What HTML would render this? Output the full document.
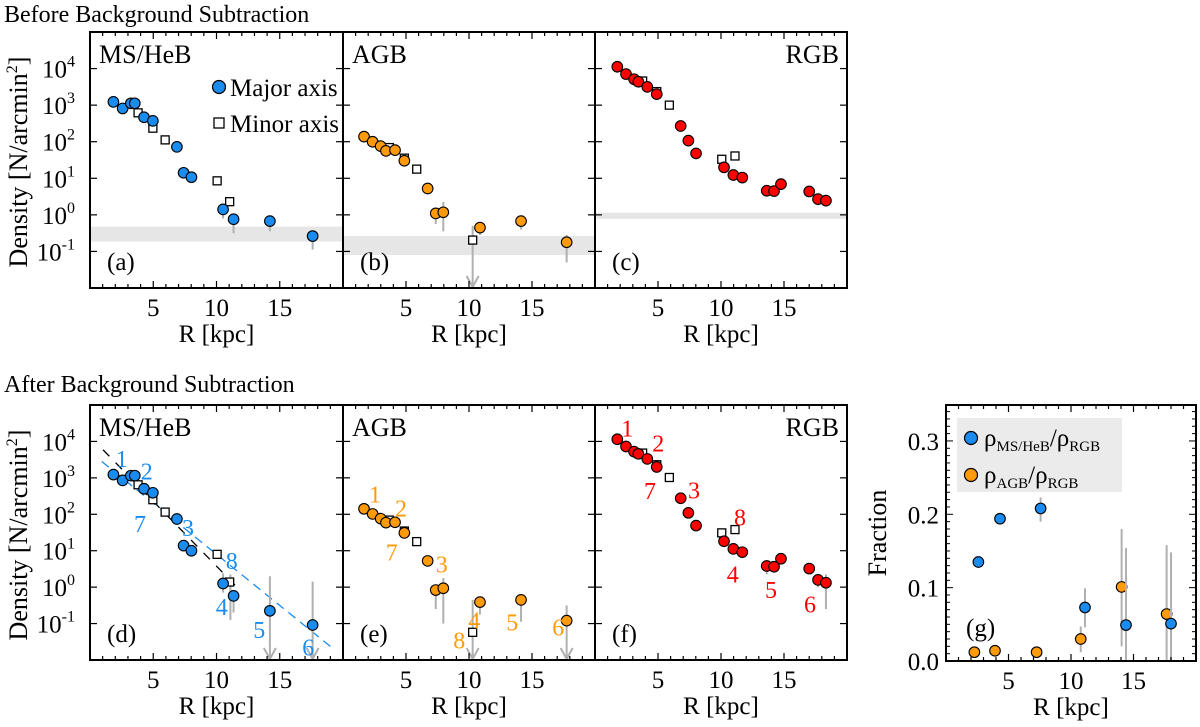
<!DOCTYPE html>
<html><head><meta charset="utf-8"><style>
body{margin:0;background:#fff}
svg{display:block;font-family:"Liberation Serif",serif}
</style></head><body>
<svg id="fig" width="1200" height="727" viewBox="0 0 1200 727" xmlns="http://www.w3.org/2000/svg">
<text x="4" y="22" font-size="24">Before Background Subtraction</text>
<text x="4" y="392" font-size="24">After Background Subtraction</text>
<text transform="translate(27,162) rotate(-90)" font-size="26" text-anchor="middle">Density [N/arcmin<tspan font-size="16" dy="-10">2</tspan><tspan dy="10">]</tspan></text>
<text transform="translate(27,535) rotate(-90)" font-size="26" text-anchor="middle">Density [N/arcmin<tspan font-size="16" dy="-10">2</tspan><tspan dy="10">]</tspan></text>
<text transform="translate(886,533) rotate(-90)" font-size="26" text-anchor="middle">Fraction</text>
</svg>
<script>
// ---------- data ----------
const msR=[1.85,2.58,3.23,3.54,4.27,4.97,6.87,7.4,8.02,10.52,11.35,14.22,17.6];
const msBefore=[3.09,2.91,3.05,3.05,2.67,2.57,1.86,1.15,1.03,0.15,-0.12,-0.17,-0.58];
const msAfter=[3.09,2.93,3.06,3.06,2.70,2.59,1.87,1.14,1.0,0.10,-0.24,-0.65,-1.04];
const msMinR=[3.8,4.97,5.94,10.05,11.04];
const msMinBefore=[2.79,2.37,2.05,0.93,0.36];
const msMinAfter=[2.81,2.40,2.06,0.90,0.14];
const agbR=[1.67,2.35,2.99,3.41,4.13,4.87,6.72,7.36,7.96,10.87,14.13,17.75];
const agbBefore=[2.14,2.0,1.88,1.75,1.77,1.48,0.72,0.04,0.07,-0.35,-0.17,-0.75];
const agbAfter=[2.15,2.01,1.88,1.77,1.78,1.49,0.72,-0.08,-0.03,-0.41,-0.35,-0.92];
const agbMinR=[3.68,4.87,5.85,10.29];
const agbMinBefore=[1.84,1.55,1.25,-0.69];
const agbMinAfter=[1.84,1.54,1.25,-1.24];
const rgbR=[1.77,2.46,3.1,3.44,4.15,4.9,6.8,7.41,8.02,10.24,10.98,11.69,13.63,14.21,14.76,17.0,17.7,18.33];
const rgbBefore=[4.05,3.85,3.71,3.64,3.5,3.3,2.43,2.03,1.68,1.3,1.09,1.02,0.66,0.65,0.84,0.64,0.43,0.39];
const rgbAfter=[4.06,3.86,3.72,3.66,3.52,3.3,2.44,2.04,1.69,1.26,1.05,0.96,0.58,0.56,0.78,0.51,0.2,0.12];
const rgbMinR=[3.78,4.9,5.9,10.06,11.11];
const rgbMinBefore=[3.66,3.37,3.0,1.52,1.61];
const rgbMinAfter=[3.68,3.36,3.01,1.49,1.58];
const bgBands=[[-0.73,-0.32],[-1.1,-0.58],[-0.11,0.06]];
// error bars: [R, logLo, logHi]
const errA=[[10.52,-0.1,0.15],[11.35,-0.5,-0.12],[14.22,-0.45,-0.17],[17.6,-0.95,-0.45]];
const errB=[[7.36,-0.25,0.04],[7.96,-0.45,0.35],[10.87,-0.55,-0.35],[14.13,-0.4,-0.17],[17.75,-1.3,-0.55]];
const errC=[];
const errD=[[10.52,-0.15,0.38],[11.1,-0.9,0.35],[11.35,-0.7,-0.1]];
const errE=[[7.36,-0.6,0.05],[7.96,-1.0,0.25],[10.87,-0.75,-0.3],[14.13,-0.95,-0.2]];
const errF=[[13.63,0.35,0.58],[17.0,0.35,0.51],[17.7,0.0,0.2],[18.33,-0.6,0.35]];
// upper-limit arrows: [R, logStart]
const arrB=[[10.29,-0.3]];
const arrD=[[14.22,0.3],[17.6,0.15]];
const arrE=[[10.29,-0.35],[17.75,-0.5]];
const yTickExp=[4,3,2,1,0,-1];
const xTickLabels=[5,10,15];
// ratio panel
const fracMsR=[2.59,4.32,7.57,11.12,14.4,18.0];
const fracMs=[0.135,0.194,0.208,0.073,0.049,0.051];
const fracMsLo=[null,null,0.19,0.046,0.0,0.0];
const fracMsHi=[null,null,0.223,0.099,0.154,0.148];
const fracAgbR=[2.27,3.92,7.25,10.78,14.05,17.65];
const fracAgb=[0.012,0.014,0.012,0.03,0.101,0.064];
const fracAgbLo=[null,null,null,0.012,0.02,0.0];
const fracAgbHi=[null,null,null,0.047,0.18,0.158];
const fracTicks=[0.0,0.1,0.2,0.3];

const NS="http://www.w3.org/2000/svg";
const svg=document.getElementById('fig');
function mk(tag,attrs,parent){const e=document.createElementNS(NS,tag);for(const k in attrs)e.setAttribute(k,attrs[k]);(parent||svg).appendChild(e);return e;}

const BLUE="#1a8cf0",ORANGE="#ff9a0a",RED="#ff0000",GRAY="#b0b0b0";
const cols=[[90,343],[343,595],[595,847]];
const rows=[[32,288],[405,660]];
const FS=25;

function panel(ci,ri,o){
  const [x0,x1]=cols[ci],[y0,y1]=rows[ri];
  const sx=r=>x0+(r/20)*(x1-x0);
  const sy=l=>y0+(5-l)/7*(y1-y0);
  const g=mk('g',{});
  
  
  if(o.band){const b=mk('rect',{x:x0+1,y:sy(o.band[1]),width:x1-x0-2,height:sy(o.band[0])-sy(o.band[1]),fill:'#e6e6e6'},g);
    }
  (o.fits||[]).forEach(f=>{const l=mk('line',{x1:sx(f[0]),y1:sy(f[1]),x2:sx(f[2]),y2:sy(f[3]),stroke:f[4],'stroke-width':1.3,'stroke-dasharray':f[5]},g);
    });
  o.err.forEach(e=>{const l=mk('line',{x1:sx(e[0]),x2:sx(e[0]),y1:sy(e[1]),y2:sy(e[2]),stroke:GRAY,'stroke-width':2},g);
    });
  (o.arr||[]).forEach(a=>{const x=sx(a[0]),ya=sy(a[1]);
    const l=mk('path',{d:`M${x},${ya}V${y1-1}M${x-6},${y1-12}L${x},${y1-1}L${x+6},${y1-12}`,stroke:GRAY,'stroke-width':2,fill:'none'},g);
    });
  o.minR.forEach((r,i)=>{const s=mk('rect',{x:sx(r)-4,y:sy(o.minV[i])-4,width:8,height:8,fill:'#fff',stroke:'#000','stroke-width':1.3},g);
    });
  o.R.forEach((r,i)=>{const c=mk('circle',{cx:sx(r),cy:sy(o.V[i]),r:5.3,fill:o.color,stroke:'#000','stroke-width':1.1},g);
    });
  const fr=mk('rect',{x:x0,y:y0,width:x1-x0,height:y1-y0,fill:'none',stroke:'#000','stroke-width':2},g);
  
  for(let r=1;r<20;r++){const L=(r%5===0)?7:4;
    mk('line',{x1:sx(r),x2:sx(r),y1:y1,y2:y1-L,stroke:'#000','stroke-width':1.2},g);
    mk('line',{x1:sx(r),x2:sx(r),y1:y0,y2:y0+L,stroke:'#000','stroke-width':1.2},g);}
  xTickLabels.forEach(v=>{const t=mk('text',{x:sx(v),y:y1+28,'font-size':FS,'text-anchor':'middle'},g);t.textContent=v;
    });
  const xt=mk('text',{x:(x0+x1)/2,y:y1+54,'font-size':FS,'text-anchor':'middle'},g);xt.textContent='R [kpc]';
  
  yTickExp.forEach(e=>{const y=sy(e);
    mk('line',{x1:x0,x2:x0+7,y1:y,y2:y,stroke:'#000','stroke-width':1.2},g);
    mk('line',{x1:x1,x2:x1-7,y1:y,y2:y,stroke:'#000','stroke-width':1.2},g);
    if(ci===0){const t=mk('text',{x:x0-15,y:y+9,'font-size':FS,'text-anchor':'end'},g);t.textContent='10';
      const s=mk('tspan',{'font-size':16,dy:-11},t);s.textContent=e;
      }});
  const nm=mk('text',{x:o.nameRight?x1-8:x0+9,y:y0+31,'font-size':26,'text-anchor':o.nameRight?'end':'start'},g);nm.textContent=o.title;
  
  const pl=mk('text',{x:x0+17,y:y1-18,'font-size':25},g);pl.textContent=o.tag;
  
  (o.nums||[]).forEach(n=>{const t=mk('text',{x:n[0],y:n[1]+9,'font-size':24,fill:o.color,'text-anchor':'middle'},g);t.textContent=n[2];
    });
  return g;
}

panel(0,0,{name:'panel-a-ms-heb-before',title:'MS/HeB',tag:'(a)',color:BLUE,R:msR,V:msBefore,minR:msMinR,minV:msMinBefore,band:bgBands[0],err:errA});
panel(1,0,{name:'panel-b-agb-before',title:'AGB',tag:'(b)',color:ORANGE,R:agbR,V:agbBefore,minR:agbMinR,minV:agbMinBefore,band:bgBands[1],err:errB,arr:arrB});
panel(2,0,{name:'panel-c-rgb-before',title:'RGB',tag:'(c)',nameRight:true,color:RED,R:rgbR,V:rgbBefore,minR:rgbMinR,minV:rgbMinBefore,band:bgBands[2],err:errC});
panel(0,1,{name:'panel-d-ms-heb-after',title:'MS/HeB',tag:'(d)',color:BLUE,R:msR,V:msAfter,minR:msMinR,minV:msMinAfter,err:errD,arr:arrD,
  fits:[[0.93,3.45,19.05,-1.64,BLUE,'9,6'],[1.03,3.77,11.9,-0.1,'#000','9,9']],
  nums:[[121.7,458,'1'],[146.7,470.7,'2'],[140,523,'7'],[188,527,'3'],[231.7,560,'8'],[221.7,606,'4'],[259.3,629,'5'],[308.3,646.7,'6']]});
panel(1,1,{name:'panel-e-agb-after',title:'AGB',tag:'(e)',color:ORANGE,R:agbR,V:agbAfter,minR:agbMinR,minV:agbMinAfter,err:errE,arr:arrE,
  nums:[[375,493.3,'1'],[401,507.3,'2'],[391.7,551.7,'7'],[441.7,563.3,'3'],[474.3,619.3,'4'],[459.3,639.3,'8'],[512.3,621.7,'5'],[558.3,626.7,'6']]});
panel(2,1,{name:'panel-f-rgb-after',title:'RGB',tag:'(f)',nameRight:true,color:RED,R:rgbR,V:rgbAfter,minR:rgbMinR,minV:rgbMinAfter,err:errF,
  nums:[[627.3,427.3,'1'],[658.3,442.7,'2'],[650,490,'7'],[694,489.3,'3'],[740,516.7,'8'],[732.7,573.3,'4'],[771,589,'5'],[810,603.3,'6']]});

(function(){
  const lc=mk('circle',{cx:219,cy:87,r:6.5,fill:BLUE,stroke:'#000','stroke-width':1.2});
  
  const lt=mk('text',{x:230,y:96,'font-size':25});lt.textContent='Major axis';
  
  const ls=mk('rect',{x:214,y:118,width:10,height:10,fill:'#fff',stroke:'#000','stroke-width':1.3});
  
  const lt2=mk('text',{x:230,y:132,'font-size':25});lt2.textContent='Minor axis';
  
})();

(function(){
  const x0=946,x1=1196,y0=405,y1=661;
  const sx=r=>x0+r*12.5, sy=f=>y1-f/0.349*(y1-y0);
  const g=mk('g',{});
  
  
  const lb=mk('rect',{x:957,y:418,width:165,height:74,fill:'#ebebeb'},g);
  
  [[438,BLUE,'MS/HeB'],[475,ORANGE,'AGB']].forEach(L=>{
    const c=mk('circle',{cx:971,cy:L[0],r:6.5,fill:L[1],stroke:'#000','stroke-width':1.2},g);
    
    const t=mk('text',{x:984,y:L[0]+8,'font-size':25},g);
    
    t.appendChild(document.createTextNode('ρ'));
    const a=mk('tspan',{'font-size':15,dy:5},t);a.textContent=L[2];
    const b=mk('tspan',{dy:-5},t);b.textContent='/ρ';
    const c2=mk('tspan',{'font-size':15,dy:5},t);c2.textContent='RGB';
  });
  function series(R,V,Lo,Hi,col,nm){
    R.forEach((r,i)=>{if(Lo[i]!==null){const l=mk('line',{x1:sx(r),x2:sx(r),y1:sy(Lo[i]),y2:sy(Hi[i]),stroke:GRAY,'stroke-width':2},g);
      }});
    R.forEach((r,i)=>{const c=mk('circle',{cx:sx(r),cy:sy(V[i]),r:5.3,fill:col,stroke:'#000','stroke-width':1.1},g);
      });
  }
  series(fracAgbR,fracAgb,fracAgbLo,fracAgbHi,ORANGE,'agb-fraction-point');
  series(fracMsR,fracMs,fracMsLo,fracMsHi,BLUE,'ms-heb-fraction-point');
  const fr=mk('rect',{x:x0,y:y0,width:x1-x0,height:y1-y0,fill:'none',stroke:'#000','stroke-width':2},g);
  
  for(let r=1;r<20;r++){const L=(r%5===0)?7:4;
    mk('line',{x1:sx(r),x2:sx(r),y1:y1,y2:y1-L,stroke:'#000','stroke-width':1.2},g);
    mk('line',{x1:sx(r),x2:sx(r),y1:y0,y2:y0+L,stroke:'#000','stroke-width':1.2},g);}
  for(let k=1;k<35;k++){const f=k*0.01,L=(k%10===0)?7:4;
    mk('line',{x1:x0,x2:x0+L,y1:sy(f),y2:sy(f),stroke:'#000','stroke-width':1},g);
    mk('line',{x1:x1,x2:x1-L,y1:sy(f),y2:sy(f),stroke:'#000','stroke-width':1},g);}
  fracTicks.forEach(f=>{const t=mk('text',{x:x0-7,y:sy(f)+9,'font-size':FS,'text-anchor':'end'},g);t.textContent=f.toFixed(1);
    });
  xTickLabels.forEach(v=>{const t=mk('text',{x:sx(v),y:y1+28,'font-size':FS,'text-anchor':'middle'},g);t.textContent=v;
    });
  const xt=mk('text',{x:(x0+x1)/2,y:y1+54,'font-size':FS,'text-anchor':'middle'},g);xt.textContent='R [kpc]';
  
  const pl=mk('text',{x:966,y:636,'font-size':25},g);pl.textContent='(g)';
  
})();
</script>
</body></html>
